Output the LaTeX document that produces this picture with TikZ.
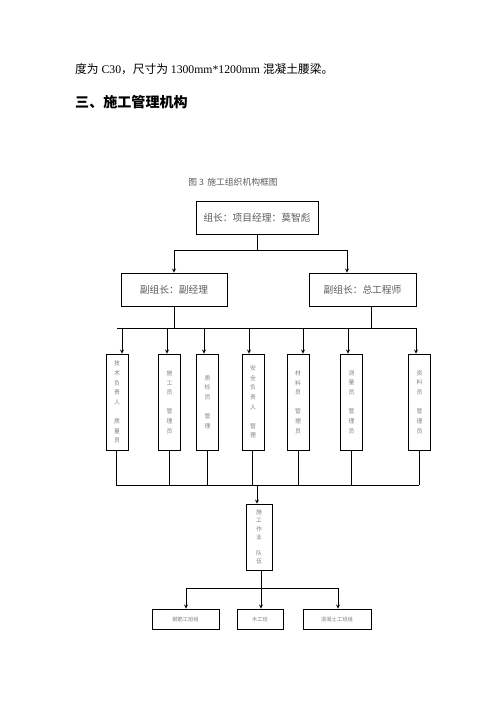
\documentclass[tikz,border=0pt]{standalone}
\usepackage{fontspec}
\setmainfont{Liberation Serif}
\newfontfamily\cjk{Noto Sans CJK SC}
\usetikzlibrary{arrows, positioning, calc}
\newcommand{\pu}{0.03cm}
\definecolor{grisito}{RGB}{90,90,90}
\tikzset{>=stealth}
\tikzset{
  box/.style={draw, line width=0.6pt, inner sep=0pt, font=\cjk\fontsize{8.3}{10}\selectfont, text=grisito},
  colbox/.style={box, minimum width=22*\pu, minimum height=96*\pu, font=\cjk\fontsize{5}{8.2}\selectfont, text=gray, align=center},
  lowbox/.style={box, minimum height=20*\pu, font=\cjk\fontsize{4.5}{6}\selectfont, text=gray},
  wire/.style={line width=0.6pt},
  arr/.style={wire, ->}
}
\begin{document}
\begin{tikzpicture}[x=\pu, y=-\pu]
  \useasboundingbox (0,0) rectangle (500,707);

  % text above the chart
  \node [anchor=west, inner sep=0pt, font=\fontsize{10}{12}\selectfont] (txt) at (75,69)
    {{\cjk 度为} C30{\cjk ，尺寸为} 1300mm*1200mm {\cjk 混凝土腰梁。}};
  \node [anchor=west, inner sep=0pt, font=\cjk\bfseries\fontsize{12}{14}\selectfont] (head) at (75,102)
    {三、施工管理机构};
  \node [inner sep=0pt, font=\cjk\fontsize{7.5}{9}\selectfont, text=grisito] (cap) at (233,182)
    {图 3\, 施工组织机构框图};

  % head and deputies
  \node [box, minimum width=122*\pu, minimum height=33*\pu] (boss) at (257,217.5) {组长：项目经理：莫智彪};
  \node [box, minimum width=106*\pu, minimum height=33*\pu] (dep1) at (174,289.5) {副组长：副经理};
  \node [box, minimum width=107*\pu, minimum height=33*\pu] (dep2) at (362.5,289.5) {副组长：总工程师};

  \coordinate (s0) at (257,250);
  \coordinate (s1) at (174,250);
  \coordinate (s2) at (347,250);
  \draw [wire] (boss.south) -- (s0);
  \draw [wire] (s1) -- (s2);
  \draw [arr] (s1) -- (dep1.north);
  \draw [arr] (s2) -- (s2 |- dep2.north);

  % bus to the posts
  \coordinate (busL) at (117,328);
  \coordinate (busR) at (416,328);
  \draw [wire] (busL) -- (busR);
  \draw [wire] (dep1.south) -- (dep1.south |- busL);
  \draw [wire] (dep2.south -| 371,0) -- (371,328);

  \coordinate (lowL) at (116,485);
  \coordinate (lowR) at (419,485);
  \draw [wire] (lowL) -- (lowR);

  \foreach \n/\cx/\ax/\bx/\txt in {
      1/117/122/116/{技\\术\\负\\责\\人\\~\\质\\量\\员},
      2/169.5/167/169/{施\\工\\员\\~\\管\\理\\员},
      3/207.5/204/207/{质\\检\\员\\~\\管\\理},
      4/253/249/252/{安\\全\\负\\责\\人\\~\\管\\理},
      5/298/303/298/{材\\料\\员\\~\\管\\理\\员},
      6/351.5/348/351/{测\\量\\员\\~\\管\\理\\员},
      7/419.5/416/419/{资\\料\\员\\~\\管\\理\\员}} {
    \node [colbox] (post\n) at (\cx,402) {\txt};
    \coordinate (up\n) at (\ax,328);
    \coordinate (dn\n) at (\bx,485);
    \draw [arr] (up\n) -- (up\n |- post\n.north);
    \draw [wire] (dn\n |- post\n.south) -- (dn\n);
  }

  % work team
  \coordinate (mid) at (257,485);
  \node [colbox, minimum width=26*\pu, minimum height=66*\pu, font=\cjk\fontsize{5}{7}\selectfont] (team) at (259,537) {施\\工\\作\\业\\~\\队\\伍};
  \draw [arr] (mid) -- (mid |- team.north);

  \coordinate (b0) at (261,588);
  \coordinate (bL) at (186,588);
  \coordinate (bR) at (338,588);
  \draw [wire] (team.south -| b0) -- (b0);
  \draw [wire] (bL) -- (bR);

  \node [lowbox, minimum width=67*\pu] (crew1) at (185.5,619) {钢筋工班组};
  \node [lowbox, minimum width=46*\pu] (crew2) at (260,619) {木工班};
  \node [lowbox, minimum width=68*\pu] (crew3) at (337,619) {混凝土工班组};
  \draw [arr] (bL) -- (bL |- crew1.north);
  \draw [arr] (b0) -- (b0 |- crew2.north);
  \draw [arr] (bR) -- (bR |- crew3.north);

\end{tikzpicture}
\end{document}
